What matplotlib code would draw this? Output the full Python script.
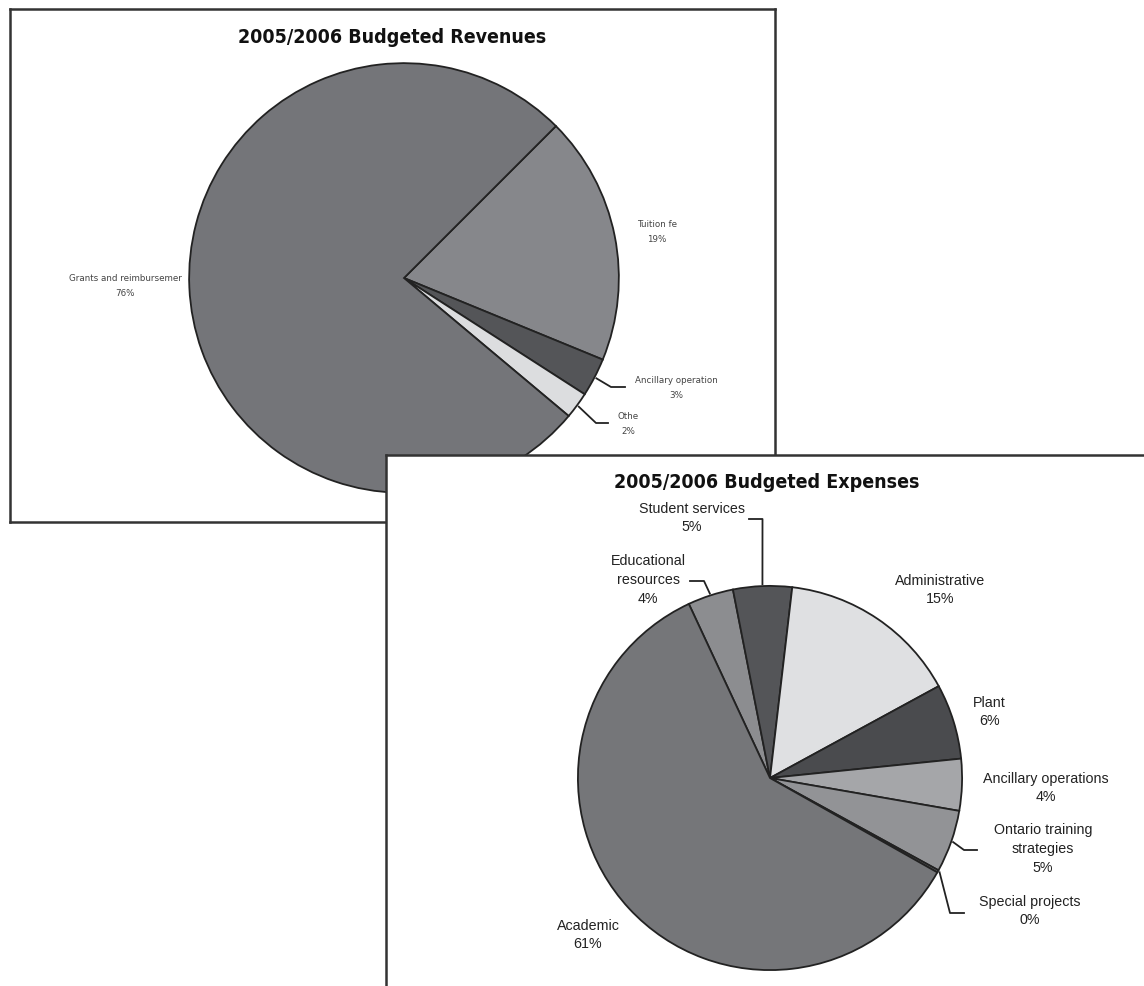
import matplotlib
matplotlib.use("Agg")
import numpy as np
import matplotlib.pyplot as plt
from matplotlib import font_manager

# revenue pie data (clockwise from the top-right boundary)
rev_labels = ["Tuition fe", "Ancillary operation", "Othe", "Grants and reimbursemer"]
rev_values = [18.7, 2.9, 2.0, 76.4]
rev_colors = ["#86878b", "#545558", "#dcdddf", "#747579"]

# expense pie data
exp_labels = ["Educational\nresources", "Student services", "Administrative", "Plant",
              "Ancillary operations", "Ontario training\nstrategies", "Special projects", "Academic"]
exp_values = [3.9, 5.0, 15.4, 6.4, 4.4, 5.3, 0.2, 60.6]
exp_colors = ["#8c8d90", "#545558", "#dfe0e2", "#4a4b4e",
              "#a5a6a9", "#929396", "#6b6c6f", "#757679"]

W, H = 1144, 987

installed = {f.name for f in font_manager.fontManager.ttflist}
if "Liberation Sans Narrow" in installed:
    title_font = dict(family="Liberation Sans Narrow", weight="bold", fontsize=18)
else:
    title_font = dict(family="DejaVu Sans", stretch="condensed", weight="heavy", fontsize=14)


def box(x0, y0, x1, y1):
    # pixel box -> figure fraction rect
    return [x0 / W, 1 - y1 / H, (x1 - x0) / W, (y1 - y0) / H]


def frame_axes(fig, x0, y0, x1, y1, z):
    ax = fig.add_axes(box(x0, y0, x1, y1))
    ax.set_xlim(x0, x1)
    ax.set_ylim(y1, y0)
    ax.set_xticks([])
    ax.set_yticks([])
    for s in ax.spines.values():
        s.set_linewidth(1.8)
        s.set_color("#333333")
    ax.set_zorder(z)
    return ax


def pie_axes(fig, cx, cy, r, values, colors, start, z):
    ax = fig.add_axes(box(cx - r, cy - r, cx + r, cy + r))
    wedges, _ = ax.pie(values, colors=colors, startangle=start, counterclock=False,
                       radius=1, wedgeprops=dict(edgecolor="#222222", linewidth=1.3))
    ax.set_xlim(-1.01, 1.01)
    ax.set_ylim(-1.01, 1.01)
    ax.set_aspect("auto")
    ax.axis("off")
    ax.set_zorder(z)
    return ax, wedges


def edge_point(w, cx, cy, r):
    # point on the rim at the middle of a wedge, in pixels
    a = np.deg2rad((w.theta1 + w.theta2) / 2)
    return cx + r * np.cos(a), cy - r * np.sin(a)


def leader(ax, p0, *pts):
    xs = [p0[0]] + [p[0] for p in pts]
    ys = [p0[1]] + [p[1] for p in pts]
    ax.plot(xs, ys, color="#222222", lw=1.3, clip_on=False)


fig = plt.figure(figsize=(W / 100, H / 100), dpi=100)

# ---- revenues panel
rcx, rcy, rr = 404, 279, 217
fr = frame_axes(fig, 10, 10, 775, 523, 0)
pr, rw = pie_axes(fig, rcx, rcy, rr, rev_values, rev_colors, 45, 1)
fr.text(392, 37, "2005/2006 Budgeted Revenues", ha="center", va="center",
        color="#111111", **title_font)

small = dict(fontsize=6.3, color="#444444", linespacing=1.75, family="DejaVu Sans")
rev_text = [(657, 232, "center"), (676, 388, "center"), (618, 424, "left"), (125, 286, "center")]
for lab, v, (x, y, ha) in zip(rev_labels, rev_values, rev_text):
    fr.text(x, y, f"{lab}\n{v:.0f}%", ha=ha, va="center", multialignment="center", **small)

leader(fr, edge_point(rw[1], rcx, rcy, rr), (611, 388), (625, 388))
leader(fr, edge_point(rw[2], rcx, rcy, rr), (596, 424), (608, 424))

# ---- expenses panel
ecx, ecy, er = 770, 779, 194
fe = frame_axes(fig, 386, 456, W + 20, H + 20, 2)
fe.set_facecolor("white")
pe, ew = pie_axes(fig, ecx, ecy, er, exp_values, exp_colors, 115, 3)
fe.text(767, 482, "2005/2006 Budgeted Expenses", ha="center", va="center",
        color="#111111", **title_font)

lab_font = dict(fontsize=10.3, color="#222222", linespacing=1.45, family="Liberation Sans")
exp_text = [(648, 580, "center"), (692, 518, "center"), (940, 590, "center"),
            (973, 712, "left"), (1046, 788, "center"), (1043, 849, "center"),
            (1030, 911, "center"), (588, 935, "center")]
for lab, v, (x, y, ha) in zip(exp_labels, exp_values, exp_text):
    fe.text(x, y, f"{lab}\n{v:.0f}%", ha=ha, va="center", multialignment="center", **lab_font)

leader(fe, edge_point(ew[0], ecx, ecy, er), (704, 582), (690, 582))
leader(fe, edge_point(ew[1], ecx, ecy, er), (762.5, 520), (749, 520))
leader(fe, edge_point(ew[5], ecx, ecy, er), (964, 851), (977, 851))
leader(fe, edge_point(ew[6], ecx, ecy, er), (950, 914), (964, 914))

fig.savefig("out.png", dpi=100)
